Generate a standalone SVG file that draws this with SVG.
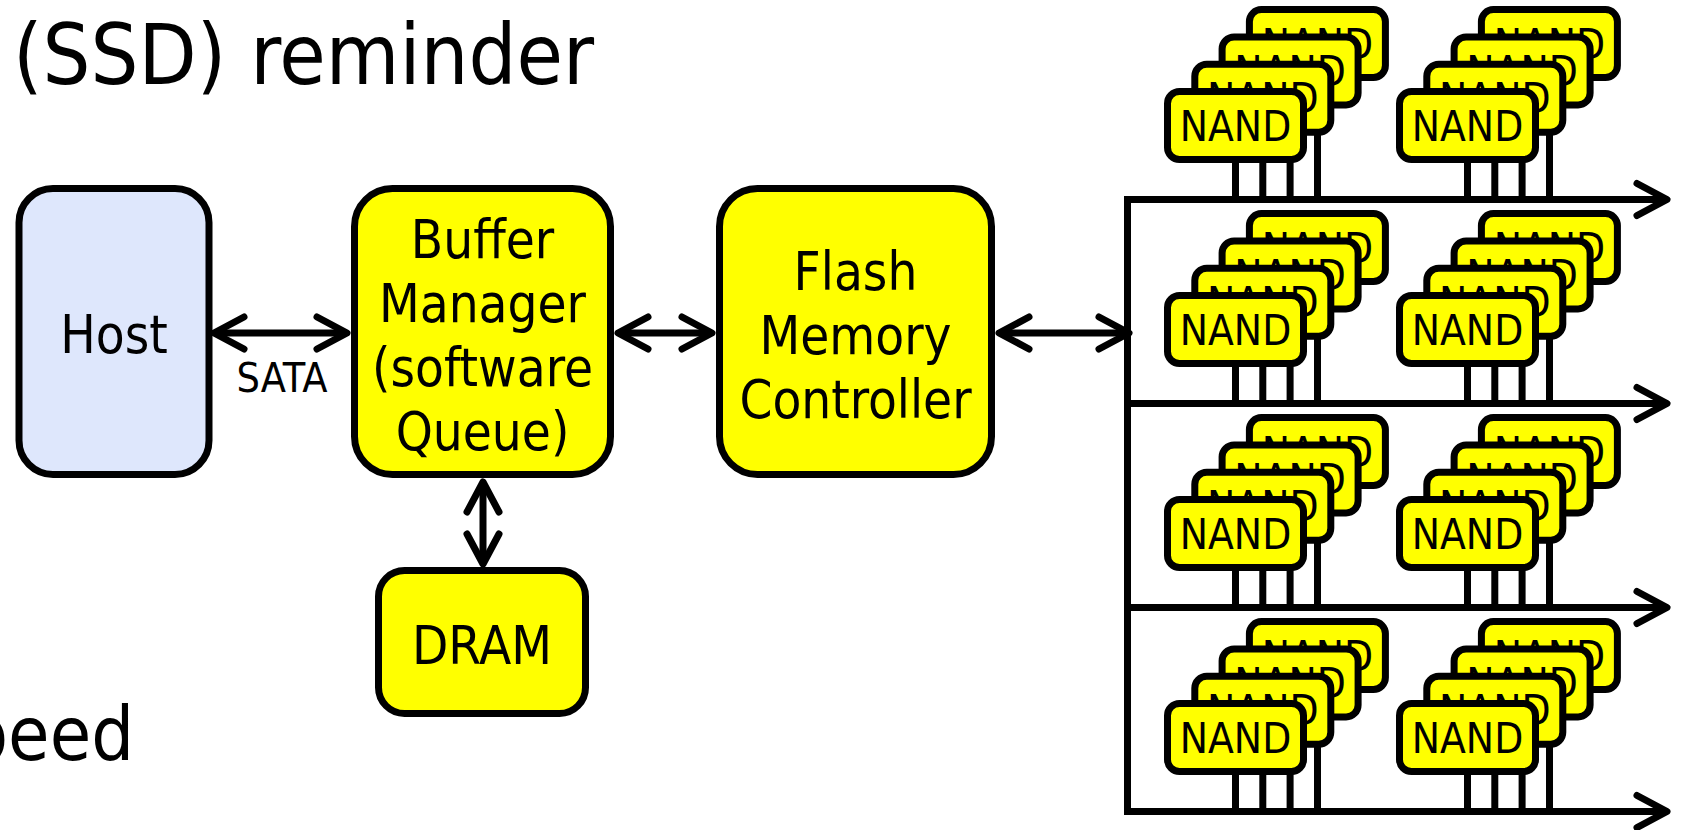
<svg xmlns="http://www.w3.org/2000/svg" xmlns:xlink="http://www.w3.org/1999/xlink" width="1688" height="830" viewBox="0 0 1688 830">
<style>
text{font-family:'DejaVu Sans Condensed','DejaVu Sans',sans-serif;font-stretch:condensed;fill:#000}
.box{stroke:#000;stroke-width:7}
.yel{fill:#ffff00}
.blue{fill:#dee7fc}
.lbl{font-size:52.5px;text-anchor:middle}
.nt{font-size:42px;text-anchor:middle}
.conn{fill:none;stroke:#000;stroke-width:7}
.pin{stroke:#000;stroke-width:7}
</style>
<defs>
<marker id="chev" markerUnits="userSpaceOnUse" markerWidth="44" markerHeight="44" viewBox="-36 -22 44 44" refX="0" refY="0" orient="auto-start-reverse" overflow="visible">
<path d="M-30,-16 L0,0 L-30,16" fill="none" stroke="#000" stroke-width="7" stroke-linecap="round" stroke-linejoin="round"/>
</marker>
<g id="nand">
<rect class="box yel" x="0" y="0" width="136" height="68" rx="12"/>
<text class="nt" x="68" y="49">NAND</text>
</g>
<g id="stack">
<line class="pin" x1="150" y1="-14" x2="150" y2="108"/>
<use xlink:href="#nand" x="81.9" y="-81.9"/>
<line class="pin" x1="122.6" y1="13.4" x2="122.6" y2="108"/>
<use xlink:href="#nand" x="54.6" y="-54.6"/>
<line class="pin" x1="95.3" y1="40.7" x2="95.3" y2="108"/>
<use xlink:href="#nand" x="27.3" y="-27.3"/>
<line class="pin" x1="68" y1="68" x2="68" y2="108"/>
<use xlink:href="#nand" x="0" y="0"/>
</g>
</defs>

<g id="title">
<text x="13" y="84" font-size="84">(SSD) reminder</text>
</g>
<g id="speed">
<text x="134" y="760" font-size="75" text-anchor="end">peed</text>
</g>

<g id="connectors">
<line class="conn" x1="214" y1="333" x2="347" y2="333" marker-start="url(#chev)" marker-end="url(#chev)"/>
<line class="conn" x1="618" y1="333" x2="712" y2="333" marker-start="url(#chev)" marker-end="url(#chev)"/>
<line class="conn" x1="999" y1="333" x2="1129" y2="333" marker-start="url(#chev)" marker-end="url(#chev)"/>
<line class="conn" x1="483" y1="482" x2="483" y2="564" marker-start="url(#chev)" marker-end="url(#chev)"/>
<line class="conn" x1="1127.5" y1="196" x2="1127.5" y2="815"/>
<line class="conn" x1="1124" y1="199.5" x2="1667" y2="199.5" marker-end="url(#chev)"/>
<line class="conn" x1="1124" y1="403.5" x2="1667" y2="403.5" marker-end="url(#chev)"/>
<line class="conn" x1="1124" y1="607.5" x2="1667" y2="607.5" marker-end="url(#chev)"/>
<line class="conn" x1="1124" y1="811.5" x2="1667" y2="811.5" marker-end="url(#chev)"/>
</g>
<g id="sata-label">
<text x="282" y="392" font-size="41" text-anchor="middle">SATA</text>
</g>

<g id="host">
<rect class="box blue" x="19" y="188.5" width="190" height="286" rx="34"/>
<text class="lbl" x="114" y="353">Host</text>
</g>
<g id="buffer-manager">
<rect class="box yel" x="354.5" y="188.5" width="256" height="286" rx="38"/>
<text class="lbl" x="482.5" y="258">Buffer</text>
<text class="lbl" x="482.5" y="322">Manager</text>
<text class="lbl" x="482.5" y="386">(software</text>
<text class="lbl" x="482.5" y="450">Queue)</text>
</g>
<g id="flash-controller">
<rect class="box yel" x="719.5" y="188.5" width="272" height="286" rx="38"/>
<text class="lbl" x="855.5" y="290">Flash</text>
<text class="lbl" x="855.5" y="354">Memory</text>
<text class="lbl" x="855.5" y="418">Controller</text>
</g>
<g id="dram">
<rect class="box yel" x="378.5" y="570.5" width="207" height="143" rx="26"/>
<text class="lbl" x="482" y="664">DRAM</text>
</g>

<g id="nand-r1-a"><use xlink:href="#stack" x="1167.5" y="91.5"/></g>
<g id="nand-r1-b"><use xlink:href="#stack" x="1399.5" y="91.5"/></g>
<g id="nand-r2-a"><use xlink:href="#stack" x="1167.5" y="295.5"/></g>
<g id="nand-r2-b"><use xlink:href="#stack" x="1399.5" y="295.5"/></g>
<g id="nand-r3-a"><use xlink:href="#stack" x="1167.5" y="499.5"/></g>
<g id="nand-r3-b"><use xlink:href="#stack" x="1399.5" y="499.5"/></g>
<g id="nand-r4-a"><use xlink:href="#stack" x="1167.5" y="703.5"/></g>
<g id="nand-r4-b"><use xlink:href="#stack" x="1399.5" y="703.5"/></g>
</svg>
